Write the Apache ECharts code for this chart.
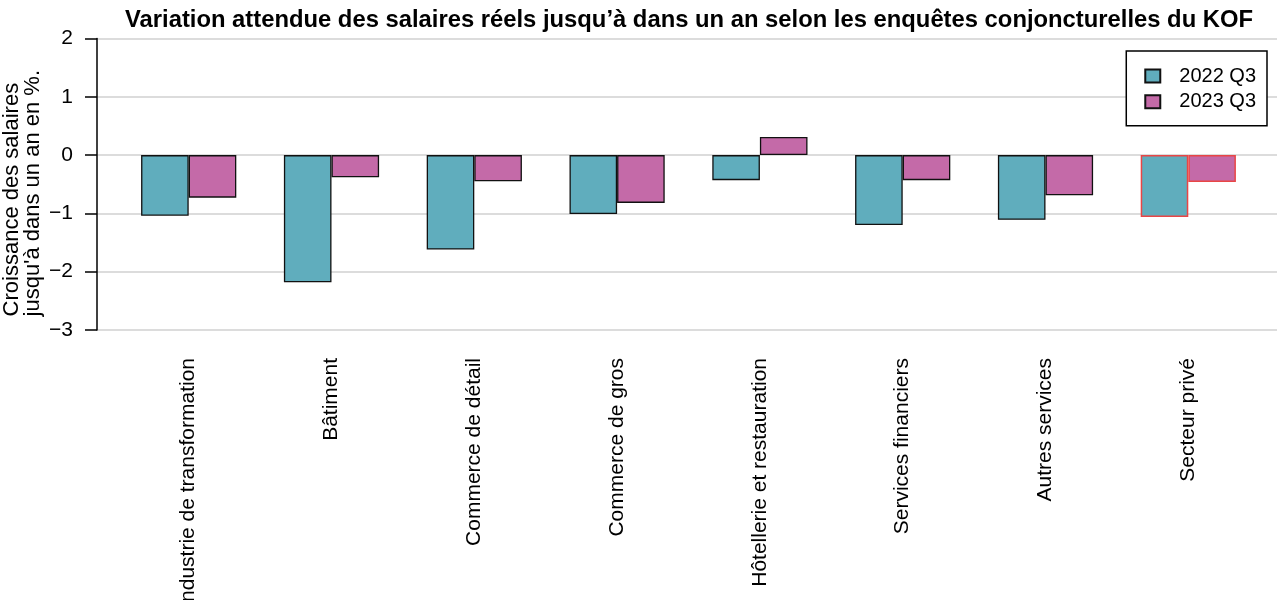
<!DOCTYPE html>
<html>
<head>
<meta charset="utf-8">
<script src="https://cdn.jsdelivr.net/npm/echarts@6/dist/echarts.min.js"></script>
<style>
  html, body { margin: 0; padding: 0; background: #fff; }
  #chart { width: 1277px; height: 600px; }
</style>
</head>
<body>
<div id="chart"></div>
<script>
// données
var categories = [
  "Industrie de transformation", "Bâtiment", "Commerce de détail", "Commerce de gros",
  "Hôtellerie et restauration", "Services financiers", "Autres services", "Secteur privé"
];
var values2022 = [-1.04, -2.18, -1.62, -1.01, -0.43, -1.20, -1.11, -1.06];
var values2023 = [-0.73, -0.38, -0.45, -0.82, 0.31, -0.43, -0.69, -0.46];
var seriesNames = ["2022 Q3", "2023 Q3"];
var yTicks = { min: -3, max: 2, interval: 1 };

var FONT = "'Liberation Sans', Arial, sans-serif";
var TEAL = "#60adbd";
var PINK = "#c46aa8";
var RED = "#e84646";

// la dernière catégorie (Secteur privé) a une bordure rouge
function withBorder(arr) {
  return arr.map(function (v, i) {
    if (i === arr.length - 1) {
      return { value: v, itemStyle: { borderColor: RED, borderWidth: 1.5 } };
    }
    return v;
  });
}

var chart = echarts.init(document.getElementById("chart"));

var option = {
  animation: false,
  backgroundColor: "#fff",
  textStyle: { fontFamily: FONT },
  title: {
    text: "Variation attendue des salaires réels jusqu’à dans un an selon les enquêtes conjoncturelles du KOF",
    left: 684,
    textAlign: "center",
    top: 3,
    textStyle: { fontFamily: FONT, fontSize: 23.8, fontWeight: "bold", color: "#000" }
  },
  legend: {
    orient: "vertical",
    right: 10,
    top: 51,
    data: seriesNames,
    backgroundColor: "#fff",
    borderColor: "#000",
    borderWidth: 1.5,
    borderRadius: 0,
    padding: [15, 11, 14, 18],
    itemWidth: 15,
    itemHeight: 13,
    itemGap: 5.7,
    icon: "rect",
    textStyle: { fontFamily: FONT, fontSize: 20, color: "#000", padding: [0, 0, 0, 14] }
  },
  grid: [
    // zone des lignes horizontales et de l'axe Y
    { left: 97, right: 0, top: 38.5, bottom: 270, outerBoundsMode: "none", containLabel: false },
    // zone des barres (les étiquettes peuvent déborder en bas, comme l'original)
    { left: 117.3, width: 1142.4, top: 38.5, bottom: 270, outerBoundsMode: "none", containLabel: false }
  ],
  xAxis: [
    { type: "value", gridIndex: 0, show: false, min: 0, max: 1 },
    {
      type: "category",
      gridIndex: 1,
      data: categories,
      axisLine: { show: false },
      axisTick: { show: false },
      axisLabel: {
        rotate: 90,
        margin: 28,
        interval: 0,
        fontFamily: FONT,
        fontSize: 21,
        color: "#000"
      }
    }
  ],
  yAxis: [
    {
      type: "value",
      gridIndex: 0,
      min: yTicks.min,
      max: yTicks.max,
      interval: yTicks.interval,
      axisLine: { show: true, lineStyle: { color: "#000", width: 1.5 } },
      axisTick: { show: true, length: 12, lineStyle: { color: "#000", width: 1.5 } },
      axisLabel: {
        margin: 24,
        fontFamily: FONT,
        fontSize: 21,
        color: "#000",
        formatter: function (v) { return String(v).replace("-", "\u2212"); }
      },
      splitLine: { show: true, lineStyle: { color: "#d0d0d0", width: 1.5 } }
    },
    {
      type: "value",
      gridIndex: 1,
      min: yTicks.min,
      max: yTicks.max,
      interval: yTicks.interval,
      show: false,
      splitLine: { show: false }
    }
  ],
  graphic: [
    {
      type: "text",
      left: 1,
      top: 70,
      style: {
        text: "Croissance des salaires\njusqu'à dans un an en %.",
        fontFamily: FONT,
        fontSize: 22,
        lineHeight: 21,
        fill: "#000",
        align: "left"
      },
      rotation: Math.PI / 2,
      originX: 0,
      originY: 0
    }
  ],
  series: [
    {
      name: seriesNames[0],
      type: "bar",
      xAxisIndex: 1,
      yAxisIndex: 1,
      data: withBorder(values2022),
      barGap: "0%",
      barCategoryGap: "33.33%",
      itemStyle: { color: TEAL, borderColor: "#111", borderWidth: 1.3 }
    },
    {
      name: seriesNames[1],
      type: "bar",
      xAxisIndex: 1,
      yAxisIndex: 1,
      data: withBorder(values2023),
      barGap: "0%",
      barCategoryGap: "33.33%",
      itemStyle: { color: PINK, borderColor: "#111", borderWidth: 1.3 }
    }
  ]
};

chart.setOption(option);
</script>
</body>
</html>
